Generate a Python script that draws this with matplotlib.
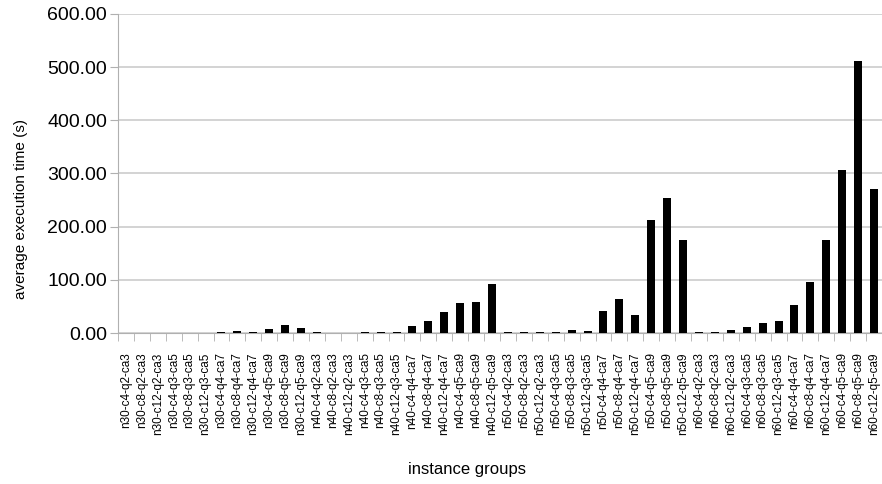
import numpy as np
import matplotlib
matplotlib.use("Agg")
from matplotlib import pyplot as plt

plt.rcParams['font.family'] = ['Liberation Sans', 'DejaVu Sans']

# instance groups: n (nodes) x c x q x ca
sizes = ["n30", "n40", "n50", "n60"]
configs = ["c4-q2-ca3", "c8-q2-ca3", "c12-q2-ca3",
           "c4-q3-ca5", "c8-q3-ca5", "c12-q3-ca5",
           "c4-q4-ca7", "c8-q4-ca7", "c12-q4-ca7",
           "c4-q5-ca9", "c8-q5-ca9", "c12-q5-ca9"]

# average execution time (s) per group
times_n30 = [0.5, 0.6, 0.5, 0.6, 0.6, 0.7, 2.8, 3.6, 2.6, 7.5, 15.6, 9.4]
times_n40 = [1.2, 0.6, 0.6, 1.8, 1.6, 2.8, 13.5, 22.0, 40.0, 57.0, 58.0, 92.0]
times_n50 = [1.8, 1.0, 1.0, 2.8, 6.5, 4.4, 42.0, 64.0, 34.0, 212.0, 253.0, 175.0]
times_n60 = [1.8, 1.8, 6.0, 10.5, 18.0, 22.0, 52.5, 95.5, 175.0, 306.0, 512.0, 270.5]

labels = []
for n in sizes:
    for c in configs:
        labels.append(n + "-" + c)
times = times_n30 + times_n40 + times_n50 + times_n60

x = np.arange(len(labels))

fig = plt.figure(figsize=(8.82, 4.84), dpi=100)
ax = fig.add_axes([118/882, 1 - 333/484, 764/882, 319/484])

ax.bar(x, times, width=0.5, color='black', zorder=3)

ax.set_xlim(-0.5, len(labels) - 0.5)
ax.set_ylim(0, 600)
ax.set_yticks(np.arange(0, 601, 100))
ax.set_yticklabels(["%.2f" % v for v in np.arange(0, 601, 100)], fontsize=14)
ax.yaxis.grid(True, color='#cccccc', linewidth=1.2, zorder=0)

ax.set_xticks(x)
ax.set_xticklabels(labels, rotation=90, fontsize=8.5)
ax.set_xticks(np.arange(-0.5, len(labels), 1), minor=True)
ax.tick_params(axis='x', which='major', length=0, pad=14)
ax.tick_params(axis='x', which='minor', length=6, color='#b0b0b0')
ax.tick_params(axis='y', length=6, color='#b0b0b0', pad=2)

for s in ['top', 'right']:
    ax.spines[s].set_visible(False)
ax.spines['left'].set_color('#b0b0b0')
ax.spines['bottom'].set_color('#b0b0b0')

ax.set_ylabel("average execution time (s)", fontsize=11)
ax.yaxis.set_label_coords(-0.118, 0.39)
ax.set_xlabel("instance groups", fontsize=12)
ax.xaxis.set_label_coords(0.457, -0.404)

fig.savefig("out.png", dpi=100)
